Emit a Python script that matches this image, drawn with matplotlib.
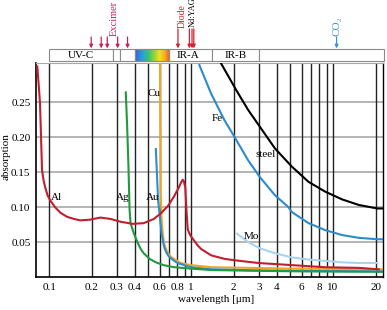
import matplotlib
matplotlib.use("Agg")

import numpy as np
import matplotlib.pyplot as plt
from matplotlib.colors import LinearSegmentedColormap
from matplotlib.patches import Rectangle

plt.rcParams['font.family'] = ['Liberation Serif', 'DejaVu Serif']
plt.rcParams['font.size'] = 8

# absorption curves (wavelength in um, absorption)
al_wl = [0.0826, 0.0845, 0.0863, 0.0878, 0.0892, 0.0915, 0.0937, 0.0975, 0.1016,
         0.110, 0.120, 0.134, 0.150, 0.166, 0.195, 0.230, 0.271, 0.319, 0.388,
         0.464, 0.547, 0.613, 0.690, 0.758, 0.820, 0.855, 0.873, 0.890, 0.911,
         0.932, 0.948, 0.975, 1.0, 1.116, 1.178, 1.386, 1.714, 2.018, 2.987,
         5.12, 8.77, 15.3, 21.0]
al_abs = [0.301, 0.275, 0.249, 0.200, 0.153, 0.138, 0.129, 0.117, 0.110,
          0.100, 0.092, 0.086, 0.083, 0.081, 0.082, 0.085, 0.083, 0.079, 0.076,
          0.077, 0.083, 0.091, 0.102, 0.115, 0.128, 0.136, 0.139, 0.137, 0.128,
          0.090, 0.068, 0.062, 0.058, 0.045, 0.040, 0.031, 0.026, 0.024, 0.020,
          0.017, 0.014, 0.013, 0.011]

ag_wl = [0.347, 0.355, 0.363, 0.369, 0.375, 0.396, 0.419, 0.442, 0.464, 0.510,
         0.565, 0.640, 0.761, 1.0, 1.386, 2.5, 6.0, 23.0]
ag_abs = [0.264, 0.215, 0.153, 0.096, 0.077, 0.062, 0.050, 0.040, 0.034, 0.026,
          0.021, 0.017, 0.014, 0.012, 0.010, 0.009, 0.008, 0.0075]

au_wl = [0.565, 0.586, 0.603, 0.620, 0.646, 0.670, 0.700, 0.750, 0.802, 1.0,
         1.386, 3.0, 8.0, 23.0]
au_abs = [0.183, 0.110, 0.086, 0.062, 0.043, 0.035, 0.029, 0.024, 0.020, 0.014,
          0.011, 0.0095, 0.0085, 0.008]

cu_wl = [0.6036, 0.6086, 0.612, 0.620, 0.630, 0.646, 0.675, 0.719, 0.846, 1.0,
         1.386, 5.1, 23.0]
cu_abs = [0.31, 0.20, 0.12, 0.085, 0.065, 0.048, 0.037, 0.029, 0.020, 0.017,
          0.014, 0.012, 0.011]

fe_wl = [1.145, 1.386, 1.722, 2.028, 2.523, 3.05, 3.896, 4.85, 5.12, 6.73,
         8.82, 11.58, 15.2, 20.5, 23.3]
fe_abs = [0.303, 0.262, 0.224, 0.200, 0.167, 0.143, 0.117, 0.100, 0.093, 0.077,
          0.067, 0.060, 0.056, 0.054, 0.054]

steel_wl = [1.632, 2.085, 2.523, 3.05, 3.896, 5.12, 6.73, 8.82, 11.58, 15.2,
            20.5, 23.3]
steel_abs = [0.305, 0.267, 0.239, 0.215, 0.184, 0.158, 0.136, 0.122, 0.111,
             0.103, 0.098, 0.098]

mo_wl = [2.11, 2.523, 3.05, 3.896, 5.12, 6.73, 8.82, 11.58, 15.2, 20.5]
mo_abs = [0.062, 0.050, 0.041, 0.034, 0.028, 0.025, 0.023, 0.021, 0.020, 0.020]

# spectral bands of the top bar
band_edges = [0.1, 0.28, 0.315, 0.4, 0.7, 1.4, 3.0, 23.0]
band_names = ['UV-C', '', '', '', 'IR-A', 'IR-B', '']

# laser lines
excimer_wl = [0.198, 0.233, 0.257, 0.304, 0.357]
diode_wl = [0.809]
ndyag_wl = [0.974, 1.016, 1.046]
co2_wl = [10.6]

x_ticks = [0.1, 0.2, 0.3, 0.4, 0.6, 0.8, 1, 2, 3, 4, 6, 8, 10, 20]
x_ticklabels = ['0.1', '0.2', '0.3', '0.4', '0.6', '0.8', '1', '2', '3', '4',
                '6', '8', '10', '20']
x_grid = [0.1, 0.2, 0.3, 0.4, 0.5, 0.6, 0.7, 0.8, 0.9, 1, 2, 3, 4, 5, 6, 7, 8,
          9, 10, 20]
y_ticks = [0.05, 0.10, 0.15, 0.20, 0.25]

XLIM = (0.0809, 22.5)

fig = plt.figure(figsize=(3.87, 3.10), dpi=100)
ax = fig.add_axes([36 / 387, 33 / 310, 347 / 387, 214 / 310])
ax.set_xscale('log')
ax.set_xlim(*XLIM)
ax.set_ylim(0, 0.306)

for v in y_ticks:
    ax.axhline(v, color='#a8a8a8', lw=1.2, zorder=1)
for v in x_grid:
    ax.axvline(v, color='#222222', lw=1.0, zorder=2)

ax.plot(fe_wl, fe_abs, color='#2b8bcb', lw=1.5, zorder=3)
ax.plot(steel_wl, steel_abs, color='black', lw=1.5, zorder=3)
ax.plot(mo_wl, mo_abs, color='#a9d3ef', lw=1.5, zorder=3)
ax.plot(cu_wl, cu_abs, color='#f0a428', lw=1.5, zorder=3)
ax.plot(au_wl, au_abs, color='#2b8fd2', lw=1.5, zorder=4)
ax.plot(ag_wl, ag_abs, color='#1f9a3c', lw=1.5, zorder=5)
ax.plot(al_wl, al_abs, color='#c01f2e', lw=1.5, zorder=5)

labels = [('Al', 0.112, 0.1136), ('Ag', 0.328, 0.1136), ('Au', 0.537, 0.1136),
          ('Cu', 0.547, 0.263), ('Fe', 1.54, 0.226), ('steel', 3.34, 0.175),
          ('Mo', 2.68, 0.0586)]
for name, lx, ly in labels:
    ax.text(lx, ly, name, ha='center', va='center', fontsize=8, zorder=6)

ax.set_xticks(x_ticks)
ax.set_xticklabels(x_ticklabels)
ax.xaxis.set_minor_locator(matplotlib.ticker.NullLocator())
ax.set_yticks(y_ticks)
ax.set_yticklabels(['0.05', '0.10', '0.15', '0.20', '0.25'])
ax.tick_params(length=0, pad=4, labelsize=8)
for s in ['left', 'bottom']:
    ax.spines[s].set_linewidth(1.2)
ax.spines['top'].set_color('#a8a8a8')
ax.spines['right'].set_linewidth(1.0)

fig.text(216 / 387, 1 - 300 / 310, 'wavelength [μm]', ha='center', va='center',
         fontsize=8)
fig.text(6 / 387, 1 - 157 / 310, 'absorption', ha='center', va='center',
         rotation=90, fontsize=8)

# top bar with bands and laser lines
bar = fig.add_axes([36 / 387, 249 / 310, 347 / 387, 12 / 310])
bar.set_xscale('log')
bar.set_xlim(*XLIM)
bar.set_ylim(0, 1)
bar.axis('off')
for i in range(len(band_edges) - 1):
    x0, x1 = band_edges[i], band_edges[i + 1]
    bar.add_patch(Rectangle((x0, 0), x1 - x0, 1, facecolor='white',
                            edgecolor='#8a8a8a', lw=0.8, clip_on=False))
    if band_names[i]:
        xc = np.sqrt(x0 * x1) * (0.96 if band_names[i] == 'IR-A' else 1.0)
        bar.text(xc, 0.45, band_names[i], ha='center', va='center', fontsize=8)

spec = LinearSegmentedColormap.from_list(
    'spec', ['#3d5fd2', '#2a9de0', '#36c07a', '#8fd438', '#f3e020', '#f6b020', '#ee6a20'])
xs = np.geomspace(0.4, 0.7, 80)
bar.pcolormesh(xs, [0, 1], xs[:-1].reshape(1, -1), cmap=spec, shading='flat')
bar.add_patch(Rectangle((0.4, 0), 0.3, 1, facecolor='none', edgecolor='#8a8a8a',
                        lw=0.8, clip_on=False))


def arrow(x, y0, color):
    bar.annotate('', xy=(x, 1.05), xytext=(x, y0), annotation_clip=False,
                 arrowprops=dict(arrowstyle='-|>', color=color, lw=0.9,
                                 mutation_scale=5, shrinkA=0, shrinkB=0))


for w in excimer_wl:
    arrow(w, 2.0, '#c4245a')
bar.text(0.287, 2.08, 'Excimer', rotation=90, ha='center', va='bottom',
         color='#c4245a', fontsize=7.5, clip_on=False)
for w in diode_wl:
    arrow(w, 2.67, '#d42030')
bar.text(0.872, 2.75, 'Diode', rotation=90, ha='center', va='bottom',
         color='#d42030', fontsize=7, clip_on=False)
for w in ndyag_wl:
    arrow(w, 2.67, '#d42030')
bar.text(1.03, 2.83, 'Nd:YAG', rotation=90, ha='center', va='bottom',
         color='black', fontsize=6, clip_on=False)
for w in co2_wl:
    arrow(w, 2.0, '#3a92d8')
bar.text(10.6, 2.08, 'CO₂', rotation=90, ha='center', va='bottom',
         color='#3a92d8', fontsize=8, clip_on=False)

fig.savefig('out.png', dpi=100)
